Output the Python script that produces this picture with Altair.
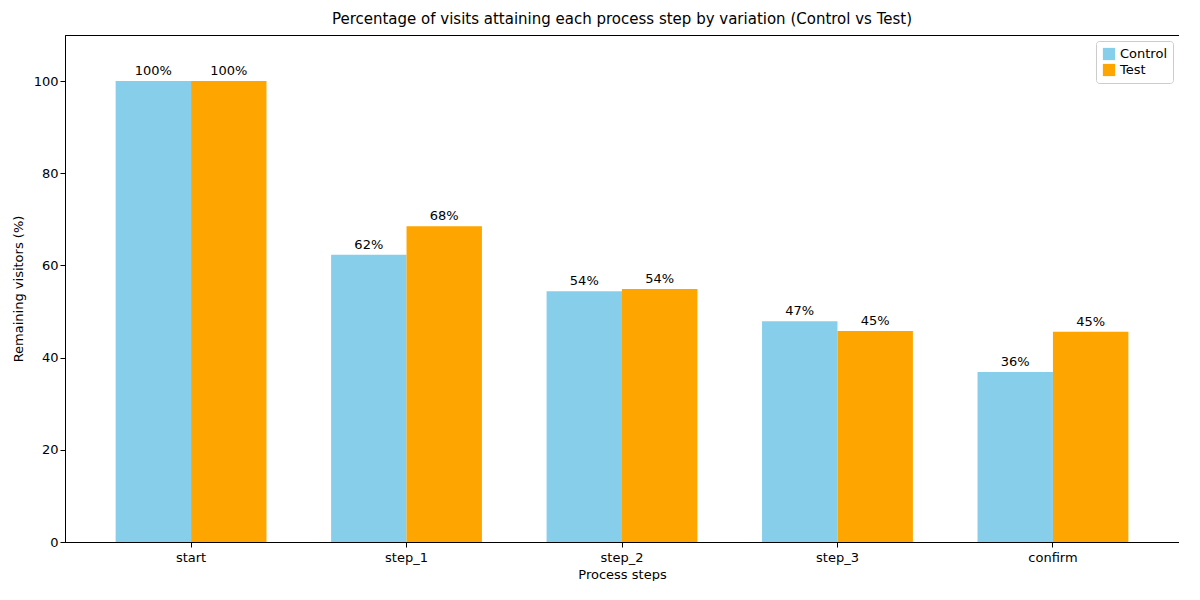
import altair as alt
import pandas as pd

steps = ["start", "step_1", "step_2", "step_3", "confirm"]
control = [100.0, 62.3, 54.4, 47.9, 36.9]
test = [100.0, 68.5, 54.9, 45.8, 45.6]
control_labels = ["100%", "62%", "54%", "47%", "36%"]
test_labels = ["100%", "68%", "54%", "45%", "45%"]

rows = []
for s, c, t, cl, tl in zip(steps, control, test, control_labels, test_labels):
    rows.append({"step": s, "variation": "Control", "value": c, "label": cl})
    rows.append({"step": s, "variation": "Test", "value": t, "label": tl})
df = pd.DataFrame(rows)

F = "DejaVu Sans"
x = alt.X("step:N", sort=steps, title="Process steps",
          scale=alt.Scale(paddingInner=0.3, paddingOuter=0.235),
          axis=alt.Axis(labelAngle=0, labelFontSize=13, titleFontSize=13, labelFont=F, titleFont=F,
                        titleFontWeight="normal", labelColor="black", titleColor="black",
                        domainColor="black", tickColor="black", grid=False, labelPadding=4, titlePadding=4))
y = alt.Y("value:Q", title="Remaining visitors (%)",
          scale=alt.Scale(domain=[0, 110], nice=False),
          axis=alt.Axis(values=[0, 20, 40, 60, 80, 100], labelFontSize=13, titleFontSize=13,
                        labelFont=F, titleFont=F, titleFontWeight="normal", labelColor="black",
                        titleColor="black", domainColor="black", tickColor="black", grid=False,
                        titlePadding=8))
color = alt.Color("variation:N", scale=alt.Scale(domain=["Control", "Test"], range=["#87CEEB", "#FFA500"]),
                  legend=alt.Legend(title=None, orient="top-right", labelFont=F, labelFontSize=13,
                                    symbolType="square", strokeColor="#cccccc", padding=6,
                                    fillColor="white", cornerRadius=3, offset=6, symbolSize=150))
xo = alt.XOffset("variation:N", sort=["Control", "Test"])

bars = alt.Chart(df).mark_bar().encode(x=x, y=y, color=color, xOffset=xo)
text = alt.Chart(df).mark_text(dy=-10, font=F, fontSize=13, color="black").encode(
    x=x, y=y, xOffset=xo, text="label:N")

chart = (bars + text).properties(
    width=1114, height=507,
    padding={"left": 4, "top": 4, "right": 0, "bottom": 0},
    title=alt.Title("Percentage of visits attaining each process step by variation (Control vs Test)",
                    font=F, fontSize=15, fontWeight="normal", color="black", offset=8),
).configure_view(stroke="black", strokeWidth=1, strokeOpacity=1)

chart.save("out.html", embed_options={"renderer": "svg", "actions": False})
